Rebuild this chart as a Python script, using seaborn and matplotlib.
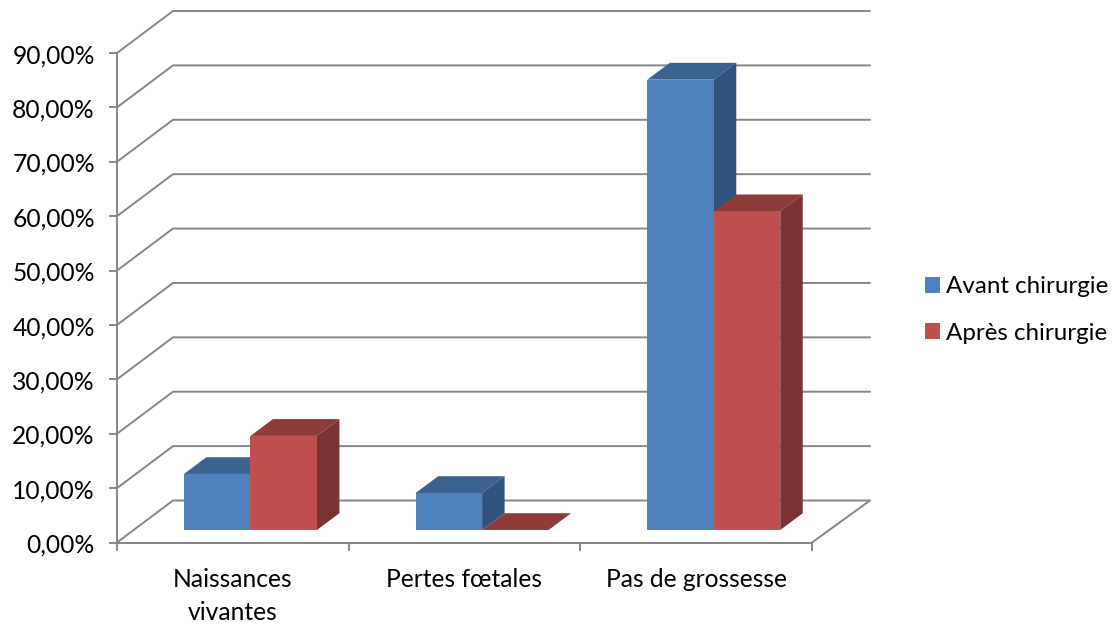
import seaborn as sns
import matplotlib.pyplot as plt
import pandas as pd
from matplotlib.patches import Polygon
from matplotlib.transforms import ScaledTranslation

categories = ["Naissances\nvivantes", "Pertes fœtales", "Pas de grossesse"]
avant = [10.3, 6.8, 82.8]
apres = [17.3, 0.0, 58.6]
series_names = ["Avant chirurgie", "Après chirurgie"]
yticks = [0, 10, 20, 30, 40, 50, 60, 70, 80, 90]

grey = "#868686"
front_cols = ["#4F81BD", "#C0504D"]
top_cols = ["#3C6290", "#8F3B39"]
side_cols = ["#30537D", "#7A3331"]

sns.set_theme(style="white")
plt.rcParams['font.family'] = ['Lato', 'DejaVu Sans']
plt.rcParams['text.color'] = 'black'

data = pd.DataFrame({
    "cat": categories * 2,
    "val": avant + apres,
    "serie": [series_names[0]] * 3 + [series_names[1]] * 3,
})

fig = plt.figure(figsize=(11.18, 6.27), dpi=100)
ax = fig.add_axes([117 / 1118, 1 - 542.5 / 627, 695 / 1118, 489.5 / 627])

sns.barplot(data=data, x="cat", y="val", hue="serie", hue_order=series_names,
            palette=front_cols, width=0.574, gap=0, saturation=1, ax=ax,
            linewidth=0)

ax.set_xlim(-0.5, 2.5)
ax.set_ylim(0, 90)

# pixels -> data units for the fake 3d
ux = 3 / 695
uy = 90 / 489.5
wall_dx, wall_dy = 56 * ux, 42 * uy
wall_right = 58 * ux
lift_dx, lift_dy = 17.6 * ux, 12.5 * uy
depth_dx, depth_dy = 22.5 * ux, 16.8 * uy

# floor lines and back wall
for t in yticks:
    ax.plot([-0.5, -0.5 + wall_dx, 2.5 + wall_right], [t, t + wall_dy, t + wall_dy],
            color=grey, lw=1.4, clip_on=False, zorder=1, solid_joinstyle="miter")
ax.plot([2.5, 2.5 + wall_right], [0, wall_dy], color=grey, lw=1.4, clip_on=False, zorder=1)

bars = []
for n, cont in enumerate(ax.containers):
    for bar in cont:
        bars.append((bar.get_x(), n, bar))
bars.sort(key=lambda b: b[0])

z = 2
for x0, n, bar in bars:
    h = bar.get_height()
    w = bar.get_width()
    x = x0 + lift_dx
    y = lift_dy
    bar.set_x(x)
    bar.set_y(y)
    bar.set_clip_on(False)
    bar.set_zorder(z + 2)
    top = Polygon([(x, y + h), (x + depth_dx, y + h + depth_dy),
                   (x + w + depth_dx, y + h + depth_dy), (x + w, y + h)],
                  facecolor=top_cols[n], edgecolor="none", clip_on=False, zorder=z)
    side = Polygon([(x + w, y), (x + w + depth_dx, y + depth_dy),
                    (x + w + depth_dx, y + h + depth_dy), (x + w, y + h)],
                   facecolor=side_cols[n], edgecolor="none", clip_on=False, zorder=z + 1)
    ax.add_patch(top)
    ax.add_patch(side)
    z += 3

ax.set_xlim(-0.5, 2.5)
ax.set_ylim(0, 90)

sns.despine(ax=ax)
for s in ["left", "bottom"]:
    ax.spines[s].set_color(grey)
    ax.spines[s].set_linewidth(1.4)
    ax.spines[s].set_zorder(1)

ax.set_yticks(yticks)
ax.set_yticklabels([f"{t},00%" for t in yticks])
ax.set_xticks([0, 1, 2])
ax.set_xticklabels(categories, linespacing=1.5)
ax.set_xticks([-0.5, 0.5, 1.5, 2.5], minor=True)
ax.tick_params(axis="x", which="major", length=0, pad=18.5, labelsize=17.7, labelcolor="black")
ax.tick_params(axis="x", which="minor", bottom=True, length=5.5, width=1.4, color=grey)
ax.tick_params(axis="y", left=True, length=5.5, width=1.4, color=grey, pad=10.5, labelsize=17.7,
               labelcolor="black")
# labels sit a little under their ticks in the original
down = ScaledTranslation(0, -2 / 72, fig.dpi_scale_trans)
for lab in ax.get_yticklabels():
    lab.set_verticalalignment("center")
    lab.set_transform(lab.get_transform() + down)
ax.set_xlabel("")
ax.set_ylabel("")

sns.move_legend(ax, "center left", bbox_to_anchor=(903 / 1118, 1 - 310 / 627),
                bbox_transform=fig.transFigure, frameon=False, title=None,
                fontsize=17.4, handlelength=0.62, handleheight=0.62,
                handletextpad=0.25, labelspacing=1.05)

plt.savefig("out.png", dpi=100)
